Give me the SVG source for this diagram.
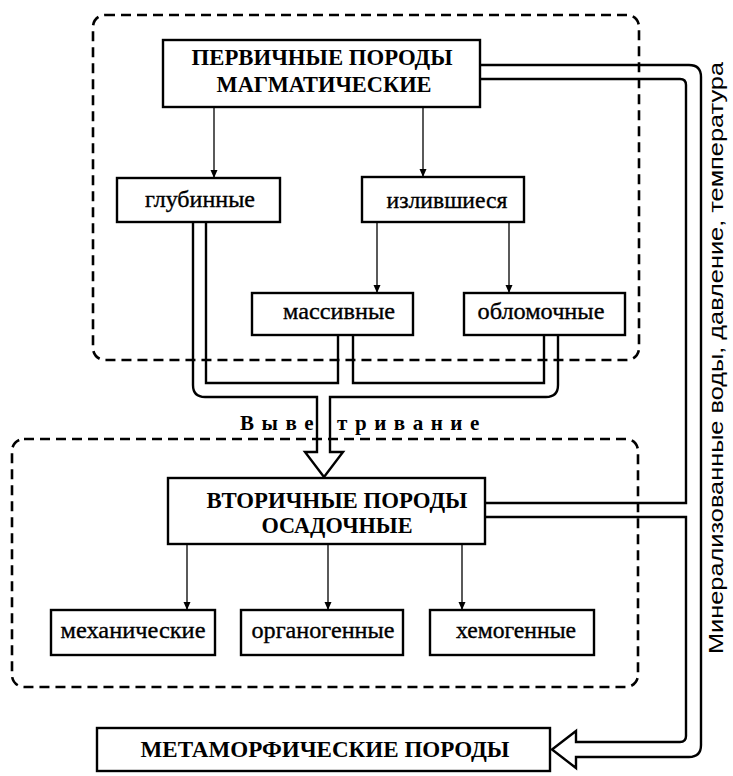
<svg xmlns="http://www.w3.org/2000/svg" width="733" height="776" viewBox="0 0 733 776">
<defs>
<marker id="ah" viewBox="0 0 8 8" refX="8" refY="4" markerWidth="8" markerHeight="8" markerUnits="userSpaceOnUse" orient="auto"><path d="M0,0.5 L8,4 L0,7.5 Z" fill="#000"/></marker>
<style>
.box{fill:#fff;stroke:#000;stroke-width:2.4}
.dash{fill:none;stroke:#000;stroke-width:2.6;stroke-dasharray:10 6}
.pipe{fill:none;stroke:#000;stroke-width:2.4;stroke-linejoin:miter}
.arr{fill:none;stroke:#000;stroke-width:1.3;marker-end:url(#ah)}
.cap{font-family:"Liberation Serif",serif;font-weight:bold;font-size:23px;text-anchor:middle}
.lab{font-family:"Liberation Serif",serif;font-size:23px;text-anchor:middle;stroke:#000;stroke-width:0.35}
.wv{font-family:"Liberation Serif",serif;font-weight:bold;font-size:21px;letter-spacing:7.5px}
.side{font-family:"Liberation Sans",Arial,sans-serif;font-size:20px;text-anchor:middle}
</style>
</defs>
<rect width="733" height="776" fill="#fff"/>
<g id="groups">
<rect class="dash" x="93" y="15" width="546" height="345" rx="12"/>
<rect class="dash" x="12" y="439" width="626" height="248" rx="12"/>
</g>
<g id="connectors">
<line class="arr" x1="214" y1="107" x2="214" y2="178"/>
<line class="arr" x1="423" y1="107" x2="423" y2="177"/>
<line class="arr" x1="377" y1="222" x2="377" y2="293"/>
<line class="arr" x1="509" y1="222" x2="509" y2="293"/>
<line class="arr" x1="187" y1="544" x2="187" y2="610"/>
<line class="arr" x1="328" y1="544" x2="328" y2="610"/>
<line class="arr" x1="462" y1="544" x2="462" y2="610"/>
<path class="pipe" d="M193,222 V385 Q193,397 205,397 H317 V452 H305 L324,477 L343,452 H330 V397 H546 Q558,397 558,385 V335"/>
<path class="pipe" d="M206,222 V383 H338 V335"/>
<path class="pipe" d="M353,335 V383 H544 V335"/>
<path class="pipe" d="M480,65 H689 Q701,65 701,77 V745 Q701,757 689,757 H576 V768 L552,749.5 L576,731 V742 H680 Q686,742 686,736 V517 H485"/>
<path class="pipe" d="M480,79 H680 Q686,79 686,85 V503 H485"/>
<text class="wv" y="430"><tspan x="240">Выве</tspan><tspan x="337">тривание</tspan></text>
<text class="side" transform="translate(723,358) rotate(-90)" textLength="592" lengthAdjust="spacingAndGlyphs">Минерализованные воды, давление, температура</text>
</g>
<g id="n1">
<rect class="box" x="163" y="40" width="317" height="67"/>
<text class="cap" x="322" y="65" textLength="261" lengthAdjust="spacingAndGlyphs">ПЕРВИЧНЫЕ ПОРОДЫ</text>
<text class="cap" x="324" y="92" textLength="215" lengthAdjust="spacingAndGlyphs">МАГМАТИЧЕСКИЕ</text>
</g>
<g id="n2">
<rect class="box" x="117" y="178" width="163" height="44"/>
<text class="lab" x="200" y="207" textLength="110" lengthAdjust="spacingAndGlyphs">глубинные</text>
</g>
<g id="n3">
<rect class="box" x="362" y="177" width="162" height="45"/>
<text class="lab" x="447" y="208" textLength="121" lengthAdjust="spacingAndGlyphs">излившиеся</text>
</g>
<g id="n4">
<rect class="box" x="252" y="293" width="161" height="42"/>
<text class="lab" x="339" y="319" textLength="112" lengthAdjust="spacingAndGlyphs">массивные</text>
</g>
<g id="n5">
<rect class="box" x="464" y="293" width="161" height="42"/>
<text class="lab" x="541" y="319" textLength="127" lengthAdjust="spacingAndGlyphs">обломочные</text>
</g>
<g id="n6">
<rect class="box" x="168" y="478" width="317" height="66"/>
<text class="cap" x="337" y="508" textLength="261" lengthAdjust="spacingAndGlyphs">ВТОРИЧНЫЕ ПОРОДЫ</text>
<text class="cap" x="337" y="533" textLength="151" lengthAdjust="spacingAndGlyphs">ОСАДОЧНЫЕ</text>
</g>
<g id="n7">
<rect class="box" x="51" y="610" width="164" height="45"/>
<text class="lab" x="133" y="638" textLength="145" lengthAdjust="spacingAndGlyphs">механические</text>
</g>
<g id="n8">
<rect class="box" x="241" y="610" width="162" height="45"/>
<text class="lab" x="323" y="638" textLength="143" lengthAdjust="spacingAndGlyphs">органогенные</text>
</g>
<g id="n9">
<rect class="box" x="430" y="610" width="164" height="45"/>
<text class="lab" x="516" y="638" textLength="120" lengthAdjust="spacingAndGlyphs">хемогенные</text>
</g>
<g id="n10">
<rect class="box" x="97" y="728" width="453" height="43"/>
<text class="cap" x="325" y="757" textLength="369" lengthAdjust="spacingAndGlyphs">МЕТАМОРФИЧЕСКИЕ ПОРОДЫ</text>
</g>
</svg>
